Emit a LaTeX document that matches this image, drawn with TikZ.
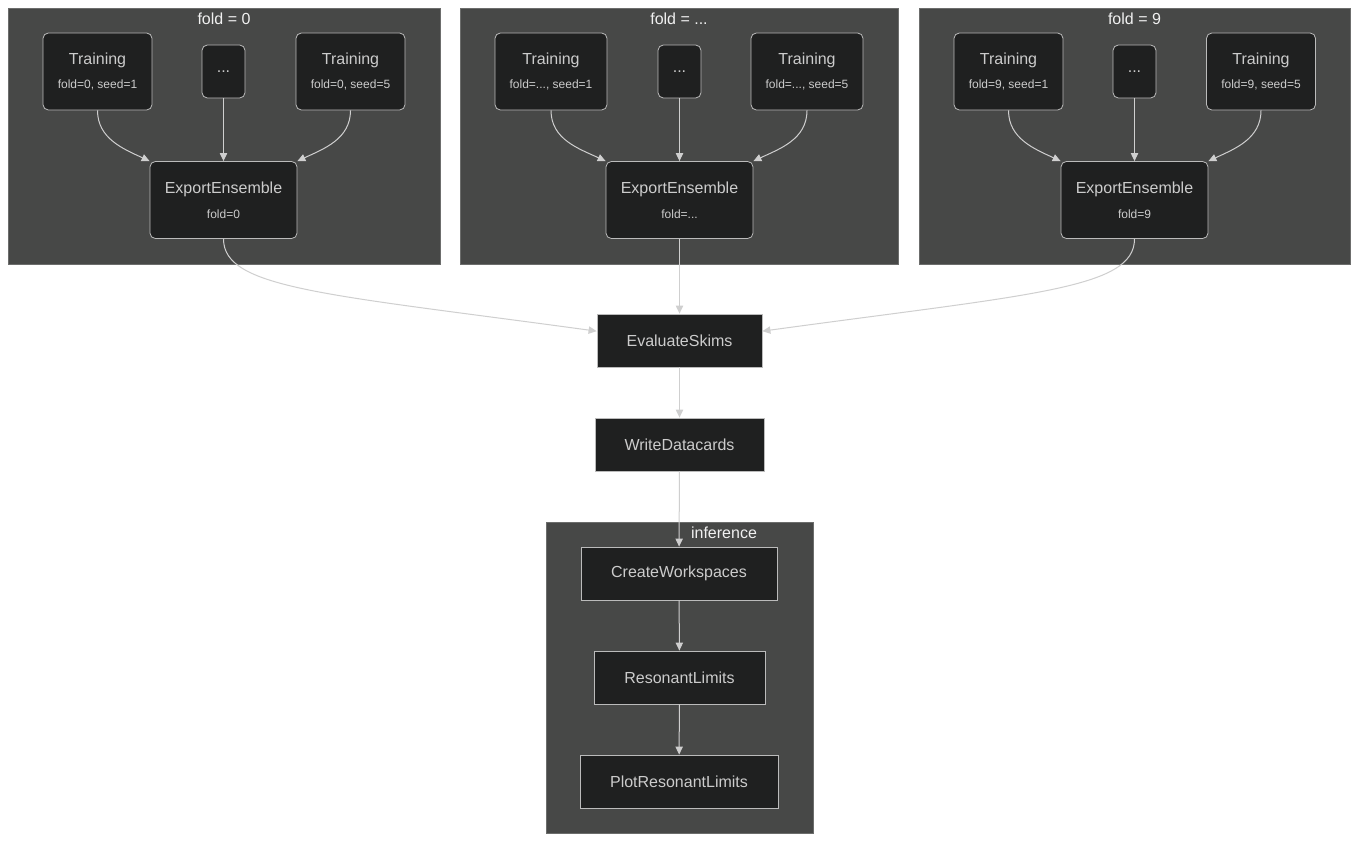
\documentclass[tikz,border=0pt]{standalone}
\usepackage{fontspec}
\setmainfont{Liberation Sans}
\usetikzlibrary{arrows.meta}
\definecolor{clusterbg}{HTML}{474847}
\definecolor{taskbg}{HTML}{1F2020}
\definecolor{taskline}{HTML}{BBBBBB}
\definecolor{tasktext}{HTML}{CCCCCC}
\definecolor{flowline}{HTML}{CFCFCF}
\newcommand{\tasklabel}[2]{#1\\[4.5pt]{\fontsize{9}{11}\selectfont #2}}
\tikzset{
	cluster/.style={
		fill=clusterbg,
		draw=clusterbg!80!white,
		line width=0.5pt,
		inner sep=0pt,
	},
	title/.style={
		text=white!94!black,
		font=\fontsize{12}{14}\selectfont,
		inner sep=0pt,
	},
	task/.style={
		fill=taskbg,
		draw=taskline,
		line width=0.6pt,
		rounded corners=4pt,
		text=tasktext,
		font=\fontsize{12}{14}\selectfont,
		align=center,
		inner sep=0pt,
		minimum height=57.75pt,
	},
	dots/.style={
		task,
		minimum width=32.25pt,
		minimum height=39.75pt,
	},
	flat/.style={
		fill=taskbg,
		draw=taskline,
		line width=0.6pt,
		text=tasktext,
		font=\fontsize{12}{14}\selectfont,
		inner sep=0pt,
		minimum height=39.75pt,
	},
	flow/.style={
		draw=flowline,
		line width=0.75pt,
		-{Triangle[length=6pt,width=5.5pt]},
	},
}

\begin{document}
\begin{tikzpicture}[x=0.75pt,y=0.75pt]
	\useasboundingbox[fill=white] (0,0) rectangle (1359,-842);

	% clusters
	\node[cluster,minimum width=324pt,minimum height=192pt]     (c0) at (224,-136) {};
	\node[cluster,minimum width=328.5pt,minimum height=192pt]   (cx) at (679,-136) {};
	\node[cluster,minimum width=323.25pt,minimum height=192pt]  (c9) at (1134.5,-136) {};
	\node[cluster,minimum width=200.25pt,minimum height=233.25pt] (cinf) at (679.5,-677.5) {};

	\node[title] (c0title)   at (224,-19)    {fold = 0};
	\node[title] (cxtitle)   at (679,-19)    {fold = ...};
	\node[title] (c9title)   at (1134.5,-19) {fold = 9};
	\node[title] (cinftitle) at (724,-533)   {inference};

	% fold = 0
	\node[task,minimum width=81.75pt] (t0a) at (97.5,-71.5)  {\tasklabel{Training}{fold=0, seed=1}};
	\node[dots]                        (t0b) at (223.5,-71.5) {...};
	\node[task,minimum width=81.75pt] (t0c) at (350.5,-71.5) {\tasklabel{Training}{fold=0, seed=5}};
	\node[task,minimum width=110.25pt] (e0) at (223.5,-200)  {\tasklabel{ExportEnsemble}{fold=0}};

	% fold = ...
	\node[task,minimum width=84pt]    (txa) at (551,-71.5)   {\tasklabel{Training}{fold=..., seed=1}};
	\node[dots]                        (txb) at (679.5,-71.5) {...};
	\node[task,minimum width=84pt]    (txc) at (807,-71.5)   {\tasklabel{Training}{fold=..., seed=5}};
	\node[task,minimum width=110.25pt] (ex) at (679.5,-200)  {\tasklabel{ExportEnsemble}{fold=...}};

	% fold = 9
	\node[task,minimum width=81.75pt] (t9a) at (1008.5,-71.5) {\tasklabel{Training}{fold=9, seed=1}};
	\node[dots]                        (t9b) at (1134.5,-71.5) {...};
	\node[task,minimum width=81.75pt] (t9c) at (1261,-71.5)   {\tasklabel{Training}{fold=9, seed=5}};
	\node[task,minimum width=110.25pt] (e9) at (1134.5,-200)  {\tasklabel{ExportEnsemble}{fold=9}};

	% downstream
	\node[flat,minimum width=123.75pt] (skims)  at (679.5,-340.5) {EvaluateSkims};
	\node[flat,minimum width=126.75pt] (cards)  at (679.5,-444.5) {WriteDatacards};
	\node[flat,minimum width=147pt]    (ws)     at (679,-573.5)   {CreateWorkspaces};
	\node[flat,minimum width=128.25pt] (limits) at (679.5,-677.5) {ResonantLimits};
	\node[flat,minimum width=148.5pt]  (plot)   at (679,-781.5)   {PlotResonantLimits};

	\draw[flow] (t0a.south) to[out=-90,in=155] (e0.north west);
	\draw[flow] (t0b) -- (e0);
	\draw[flow] (t0c.south) to[out=-90,in=25] (e0.north east);

	\draw[flow] (txa.south) to[out=-90,in=155] (ex.north west);
	\draw[flow] (txb) -- (ex);
	\draw[flow] (txc.south) to[out=-90,in=25] (ex.north east);

	\draw[flow] (t9a.south) to[out=-90,in=155] (e9.north west);
	\draw[flow] (t9b) -- (e9);
	\draw[flow] (t9c.south) to[out=-90,in=25] (e9.north east);

	\draw[flow] (e0.south) .. controls +(0,-50) and +(-270,37) .. ([yshift=7pt]skims.west);
	\draw[flow] (ex) -- (skims);
	\draw[flow] (e9.south) .. controls +(0,-50) and +(270,37) .. ([yshift=7pt]skims.east);

	\draw[flow] (skims) -- (cards);
	\draw[flow] (cards) -- (ws);
	\draw[flow] (ws) -- (limits);
	\draw[flow] (limits) -- (plot);

\end{tikzpicture}
\end{document}
